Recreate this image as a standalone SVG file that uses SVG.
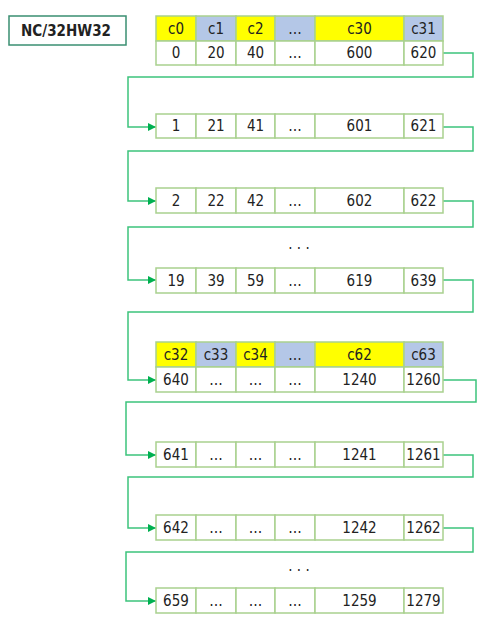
<svg xmlns="http://www.w3.org/2000/svg" width="493" height="621" viewBox="0 0 493 621">
<style>
.c{fill:#fff;stroke:#a9d18e;stroke-width:1.5}
.y{fill:#ffff00;stroke:#a9d18e;stroke-width:1.5}
.b{fill:#b4c7e7;stroke:#a9d18e;stroke-width:1.5}
text{font-family:"DejaVu Sans Condensed","DejaVu Sans",sans-serif;font-stretch:condensed;font-size:15px;fill:#222;text-anchor:middle;dominant-baseline:central}
.lbl{font-weight:bold;font-size:15px}
.con{fill:none;stroke:#3cc47c;stroke-width:1.5;marker-end:url(#ah)}
</style>
<defs>
<marker id="ah" viewBox="0 0 10 10" refX="10" refY="5" markerWidth="8" markerHeight="8" markerUnits="userSpaceOnUse" orient="auto">
<path d="M0,0 L10,5 L0,10 z" fill="#00b050"/>
</marker>
</defs>
<rect width="493" height="621" fill="#fff"/>
<g id="label">
<rect x="9" y="16" width="117" height="29" fill="#fff" stroke="#3a8f72" stroke-width="1.5"/>
<text class="lbl" x="66" y="31">NC/32HW32</text>
</g>
<g id="connectors">
<polyline class="con" points="443,53 473,53 473,77 128,77 128,127 156,127"/>
<polyline class="con" points="443,127 473,127 473,151 128,151 128,201 156,201"/>
<polyline class="con" points="443,201 473,201 473,227 128,227 128,280 156,280"/>
<polyline class="con" points="443,280 473,280 473,312 128,312 128,380 156,380"/>
<polyline class="con" points="443,380 476,380 476,402 126,402 126,455 156,455"/>
<polyline class="con" points="443,455 473,455 473,477 128,477 128,528 156,528"/>
<polyline class="con" points="443,528 473,528 473,552 126,552 126,601 156,601"/>
</g>
<g id="header1">
<rect class="y" x="156" y="16" width="40" height="25"/>
<rect class="b" x="196" y="16" width="40" height="25"/>
<rect class="y" x="236" y="16" width="39" height="25"/>
<rect class="b" x="275" y="16" width="40" height="25"/>
<rect class="y" x="315" y="16" width="89" height="25"/>
<rect class="b" x="404" y="16" width="39" height="25"/>
<text x="176" y="28.5">c0</text><text x="216" y="28.5">c1</text><text x="255.5" y="28.5">c2</text><text x="295" y="28.5">…</text><text x="359.5" y="28.5">c30</text><text x="423.5" y="28.5">c31</text>
</g>
<g id="row0">
<rect class="c" x="156" y="41" width="40" height="24"/><rect class="c" x="196" y="41" width="40" height="24"/><rect class="c" x="236" y="41" width="39" height="24"/><rect class="c" x="275" y="41" width="40" height="24"/><rect class="c" x="315" y="41" width="89" height="24"/><rect class="c" x="404" y="41" width="39" height="24"/>
<text x="176" y="53">0</text><text x="216" y="53">20</text><text x="255.5" y="53">40</text><text x="295" y="53">…</text><text x="359.5" y="53">600</text><text x="423.5" y="53">620</text>
</g>
<g id="row1">
<rect class="c" x="156" y="114" width="40" height="24"/><rect class="c" x="196" y="114" width="40" height="24"/><rect class="c" x="236" y="114" width="39" height="24"/><rect class="c" x="275" y="114" width="40" height="24"/><rect class="c" x="315" y="114" width="89" height="24"/><rect class="c" x="404" y="114" width="39" height="24"/>
<text x="176" y="126">1</text><text x="216" y="126">21</text><text x="255.5" y="126">41</text><text x="295" y="126">…</text><text x="359.5" y="126">601</text><text x="423.5" y="126">621</text>
</g>
<g id="row2">
<rect class="c" x="156" y="188" width="40" height="25"/><rect class="c" x="196" y="188" width="40" height="25"/><rect class="c" x="236" y="188" width="39" height="25"/><rect class="c" x="275" y="188" width="40" height="25"/><rect class="c" x="315" y="188" width="89" height="25"/><rect class="c" x="404" y="188" width="39" height="25"/>
<text x="176" y="200.5">2</text><text x="216" y="200.5">22</text><text x="255.5" y="200.5">42</text><text x="295" y="200.5">…</text><text x="359.5" y="200.5">602</text><text x="423.5" y="200.5">622</text>
</g>
<text id="dots1" x="299" y="244">. . .</text>
<g id="row19">
<rect class="c" x="156" y="268" width="40" height="25"/><rect class="c" x="196" y="268" width="40" height="25"/><rect class="c" x="236" y="268" width="39" height="25"/><rect class="c" x="275" y="268" width="40" height="25"/><rect class="c" x="315" y="268" width="89" height="25"/><rect class="c" x="404" y="268" width="39" height="25"/>
<text x="176" y="280.5">19</text><text x="216" y="280.5">39</text><text x="255.5" y="280.5">59</text><text x="295" y="280.5">…</text><text x="359.5" y="280.5">619</text><text x="423.5" y="280.5">639</text>
</g>
<g id="header2">
<rect class="y" x="156" y="342" width="40" height="25"/>
<rect class="b" x="196" y="342" width="40" height="25"/>
<rect class="y" x="236" y="342" width="39" height="25"/>
<rect class="b" x="275" y="342" width="40" height="25"/>
<rect class="y" x="315" y="342" width="89" height="25"/>
<rect class="b" x="404" y="342" width="39" height="25"/>
<text x="176" y="354.5">c32</text><text x="216" y="354.5">c33</text><text x="255.5" y="354.5">c34</text><text x="295" y="354.5">…</text><text x="359.5" y="354.5">c62</text><text x="423.5" y="354.5">c63</text>
</g>
<g id="row640">
<rect class="c" x="156" y="367" width="40" height="25"/><rect class="c" x="196" y="367" width="40" height="25"/><rect class="c" x="236" y="367" width="39" height="25"/><rect class="c" x="275" y="367" width="40" height="25"/><rect class="c" x="315" y="367" width="89" height="25"/><rect class="c" x="404" y="367" width="39" height="25"/>
<text x="176" y="379.5">640</text><text x="216" y="379.5">…</text><text x="255.5" y="379.5">…</text><text x="295" y="379.5">…</text><text x="359.5" y="379.5">1240</text><text x="423.5" y="379.5">1260</text>
</g>
<g id="row641">
<rect class="c" x="156" y="442" width="40" height="25"/><rect class="c" x="196" y="442" width="40" height="25"/><rect class="c" x="236" y="442" width="39" height="25"/><rect class="c" x="275" y="442" width="40" height="25"/><rect class="c" x="315" y="442" width="89" height="25"/><rect class="c" x="404" y="442" width="39" height="25"/>
<text x="176" y="454.5">641</text><text x="216" y="454.5">…</text><text x="255.5" y="454.5">…</text><text x="295" y="454.5">…</text><text x="359.5" y="454.5">1241</text><text x="423.5" y="454.5">1261</text>
</g>
<g id="row642">
<rect class="c" x="156" y="515" width="40" height="25"/><rect class="c" x="196" y="515" width="40" height="25"/><rect class="c" x="236" y="515" width="39" height="25"/><rect class="c" x="275" y="515" width="40" height="25"/><rect class="c" x="315" y="515" width="89" height="25"/><rect class="c" x="404" y="515" width="39" height="25"/>
<text x="176" y="527.5">642</text><text x="216" y="527.5">…</text><text x="255.5" y="527.5">…</text><text x="295" y="527.5">…</text><text x="359.5" y="527.5">1242</text><text x="423.5" y="527.5">1262</text>
</g>
<text id="dots2" x="299" y="566">. . .</text>
<g id="row659">
<rect class="c" x="156" y="588" width="40" height="25"/><rect class="c" x="196" y="588" width="40" height="25"/><rect class="c" x="236" y="588" width="39" height="25"/><rect class="c" x="275" y="588" width="40" height="25"/><rect class="c" x="315" y="588" width="89" height="25"/><rect class="c" x="404" y="588" width="39" height="25"/>
<text x="176" y="600.5">659</text><text x="216" y="600.5">…</text><text x="255.5" y="600.5">…</text><text x="295" y="600.5">…</text><text x="359.5" y="600.5">1259</text><text x="423.5" y="600.5">1279</text>
</g>
</svg>
